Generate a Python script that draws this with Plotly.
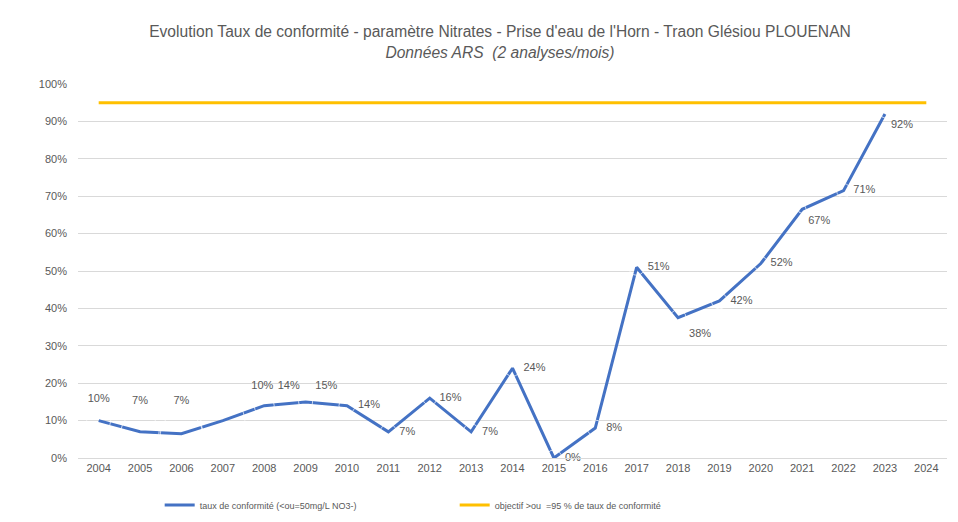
import plotly.graph_objects as go

years = [str(y) for y in range(2004, 2025)]
taux = [10, 7, 6.5, 10, 14, 15, 14, 7, 16, 7, 24, 0, 8, 51, 37.5, 42, 52, 66.5, 71.5, 92, None]
labels = ["10%", "7%", "7%", "10%", "14%", "15%", "14%", "7%", "16%", "7%", "24%", "0%", "8%",
          "51%", "38%", "42%", "52%", "67%", "71%", "92%", ""]
objectif = [95] * len(years)

# label placement (style): position relative to the point and gap size
label_pos = ["top center", "top center", "top center", "top right", "top right", "top right",
             "middle right", "middle right", "middle right", "middle right", "middle right",
             "middle right", "middle right", "middle right", "bottom right", "middle right",
             "middle right", "bottom right", "middle right", "bottom right", "middle right"]
label_gap = [24, 38, 42, 44, 20, 14, 16, 16, 14, 16, 16, 16, 16, 16, 16, 16, 14, 8, 14, 8, 14]

FONT = "Liberation Sans, Arial, sans-serif"
GREY = "#595959"

fig = go.Figure()
fig.add_trace(go.Scatter(
    x=years, y=taux, mode="lines", name="taux de conformité (<ou=50mg/L NO3-)",
    line=dict(color="#4472C4", width=3),
))
fig.add_trace(go.Scatter(
    x=years, y=objectif, mode="lines", name="objectif >ou  =95 % de taux de conformité",
    line=dict(color="#FFC000", width=3),
))
fig.add_trace(go.Scatter(
    x=years, y=taux, mode="markers+text", text=labels, textposition=label_pos,
    marker=dict(size=label_gap, color="rgba(0,0,0,0)"),
    textfont=dict(family=FONT, size=11, color=GREY),
    showlegend=False, hoverinfo="skip", cliponaxis=False,
))

fig.update_layout(
    width=942, height=506,
    paper_bgcolor="white", plot_bgcolor="white",
    margin=dict(l=70, r=3, t=76, b=56),
    title=dict(
        text="Evolution Taux de conformité - paramètre Nitrates - Prise d'eau de l'Horn - Traon Glésiou PLOUENAN"
             "<br><i>Données ARS  (2 analyses/mois)</i>",
        x=0.5223, xanchor="center", y=0.942, yanchor="top",
        font=dict(family=FONT, size=15.6, color=GREY),
    ),
    font=dict(family=FONT, color=GREY),
    showlegend=True,
    legend=dict(
        orientation="h", x=0.094, xanchor="left",
        yref="container", y=0.0178, yanchor="middle",
        font=dict(family=FONT, size=9, color=GREY), entrywidth=250,
        bgcolor="rgba(0,0,0,0)",
    ),
    xaxis=dict(
        type="category", range=[-0.5, 20.5], showgrid=False, automargin=False,
        showline=True, linecolor="#D9D9D9", ticks="",
        tickfont=dict(family=FONT, size=11, color=GREY),
    ),
    yaxis=dict(
        range=[0, 100], dtick=10, ticksuffix="%", showgrid=True, gridcolor="#D9D9D9",
        gridwidth=1, zeroline=False, showline=False, automargin=False,
        ticklabelstandoff=10,
        tickfont=dict(family=FONT, size=11, color=GREY),
    ),
)

fig.write_html("out.html")
